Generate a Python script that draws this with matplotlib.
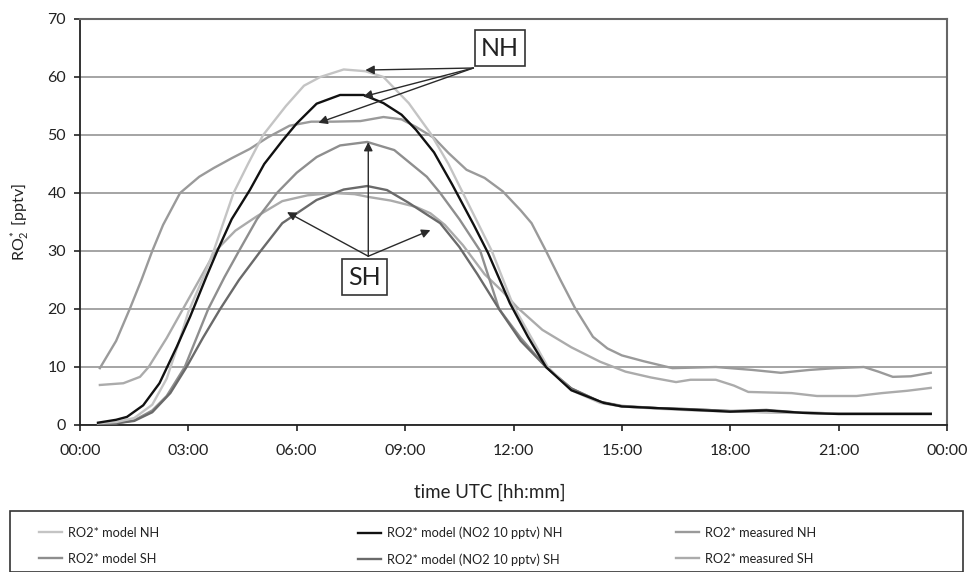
import matplotlib
matplotlib.use('Agg')
import matplotlib.pyplot as plt
from matplotlib.patches import Rectangle

plt.rcParams['font.family'] = ['Lato', 'DejaVu Sans']
plt.rcParams['mathtext.fontset'] = 'custom'
plt.rcParams['mathtext.rm'] = 'Lato'
plt.rcParams['mathtext.it'] = 'Lato:italic'

# ---- data (hours UTC, RO2* in pptv) ----
t_model_nh = [0.5, 1.0, 1.5, 2.0, 2.4, 2.75, 3.0, 3.45, 3.7, 4.25, 4.65, 5.07, 5.7, 6.2, 6.65,
              7.3, 7.9, 8.4, 9.1, 9.7, 10.2, 10.6, 11.0, 11.4, 12.0, 12.5, 12.95, 13.6, 14.4,
              15.0, 16.0, 17.0, 18.0, 19.0, 20.0, 21.0, 22.0, 23.55]
v_model_nh = [0.3, 0.5, 1.2, 3.5, 8.0, 14.5, 19.5, 26.0, 30.0, 40.0, 45.0, 50.0, 55.0, 58.5, 60.0,
              61.3, 61.0, 60.0, 55.5, 50.3, 45.0, 40.0, 35.0, 30.0, 20.5, 15.0, 10.0, 6.0, 3.8,
              3.2, 2.8, 2.5, 2.3, 2.2, 2.1, 2.0, 2.0, 2.0]

t_no2_nh = [0.5, 1.0, 1.3, 1.75, 2.2, 2.68, 3.05, 3.5, 3.8, 4.2, 4.7, 5.1, 5.6, 6.0, 6.55, 7.2,
            7.85, 8.4, 8.9, 9.3, 9.8, 10.3, 10.9, 11.3, 11.9, 12.4, 12.9, 13.6, 14.5, 15.0,
            16.0, 17.0, 18.0, 19.0, 20.0, 21.0, 22.0, 23.55]
v_no2_nh = [0.4, 0.9, 1.4, 3.4, 7.2, 13.5, 18.7, 25.6, 30.0, 35.5, 40.5, 45.0, 49.0, 52.0, 55.4,
            56.9, 56.9, 55.5, 53.5, 50.9, 47.0, 41.5, 34.5, 29.6, 21.0, 15.2, 10.0, 6.0, 3.8,
            3.2, 2.9, 2.6, 2.3, 2.5, 2.1, 1.9, 1.9, 1.9]

t_meas_nh = [0.55, 1.0, 1.39, 1.7, 2.0, 2.3, 2.77, 3.3, 3.7, 4.2, 4.7, 5.2, 5.8, 6.4, 7.0, 7.76,
             8.4, 8.9, 9.3, 9.8, 10.2, 10.7, 11.2, 11.7, 12.2, 12.5, 12.9, 13.3, 13.7, 14.2,
             14.6, 15.0, 15.6, 16.4, 17.0, 17.6, 18.6, 19.4, 20.2, 20.9, 21.7, 22.1, 22.5,
             23.0, 23.55]
v_meas_nh = [9.8, 14.5, 20.2, 25.0, 30.0, 34.5, 40.0, 42.8, 44.3, 46.0, 47.6, 49.6, 51.6, 52.3,
             52.3, 52.4, 53.1, 52.7, 51.4, 49.5, 46.9, 44.0, 42.6, 40.3, 37.0, 34.8, 30.0,
             25.0, 20.2, 15.2, 13.2, 12.0, 11.0, 9.8, 9.9, 10.0, 9.5, 9.0, 9.5, 9.8, 10.0,
             9.2, 8.3, 8.4, 9.0]

t_model_sh = [0.5, 1.0, 1.5, 2.0, 2.4, 2.9, 3.55, 4.0, 4.4, 4.9, 5.45, 6.0, 6.55, 7.2, 7.95,
              8.7, 9.6, 9.97, 10.5, 11.08, 11.6, 12.2, 12.9, 13.6, 14.4, 15.0, 16.0, 17.0,
              18.0, 19.0, 20.0, 21.0, 22.0, 23.55]
v_model_sh = [0.2, 0.3, 0.8, 2.5, 5.0, 10.0, 20.0, 25.5, 30.0, 35.5, 40.0, 43.5, 46.2, 48.2,
              48.8, 47.4, 42.8, 40.0, 35.5, 30.0, 20.0, 15.0, 10.0, 6.3, 4.0, 3.3, 2.9, 2.7,
              2.4, 2.2, 2.1, 2.0, 2.0, 2.0]

t_no2_sh = [0.5, 1.0, 1.5, 2.0, 2.5, 2.95, 3.4, 3.88, 4.4, 5.0, 5.6, 6.55, 7.3, 7.95, 8.5,
            9.1, 9.97, 10.5, 11.0, 11.6, 12.2, 12.9, 13.6, 14.4, 15.0, 16.0, 17.0, 18.0,
            19.0, 20.0, 21.0, 22.0, 23.55]
v_no2_sh = [0.2, 0.3, 0.7, 2.2, 5.5, 10.0, 15.0, 20.0, 25.0, 30.0, 34.8, 38.8, 40.6, 41.2,
            40.5, 38.3, 34.8, 30.7, 26.0, 20.0, 14.5, 10.0, 6.3, 4.0, 3.2, 2.9, 2.7, 2.4,
            2.6, 2.1, 2.0, 2.0, 2.0]

t_meas_sh = [0.55, 1.2, 1.66, 1.9, 2.4, 2.85, 3.3, 3.75, 4.3, 4.9, 5.6, 6.3, 7.0, 7.6, 8.0,
             8.6, 9.3, 9.7, 10.1, 10.6, 11.2, 11.7, 12.1, 12.8, 13.6, 14.4, 15.1, 15.8,
             16.5, 16.9, 17.6, 18.1, 18.5, 19.7, 20.4, 21.5, 22.2, 22.9, 23.55]
v_meas_sh = [6.9, 7.2, 8.3, 10.0, 15.0, 20.0, 25.0, 30.0, 33.5, 36.0, 38.6, 39.6, 40.0, 39.8,
             39.3, 38.7, 37.6, 36.5, 34.5, 31.0, 26.0, 23.0, 20.3, 16.4, 13.4, 10.9, 9.2,
             8.2, 7.4, 7.8, 7.8, 6.8, 5.7, 5.5, 5.0, 5.0, 5.5, 5.9, 6.4]

x_ticks = [0, 3, 6, 9, 12, 15, 18, 21, 24]
x_tick_labels = ['00:00', '03:00', '06:00', '09:00', '12:00', '15:00', '18:00', '21:00', '00:00']
y_ticks = [0, 10, 20, 30, 40, 50, 60, 70]

# annotation arrows (hours, pptv)
nh_box = (11.63, 65.0)
nh_origin = (10.89, 61.55)
nh_tips = [(7.9, 61.2), (7.84, 56.6), (6.6, 52.1)]
sh_box = (7.87, 25.5)
sh_origin = (7.98, 29.1)
sh_tips = [(7.98, 48.8), (5.73, 36.7), (9.7, 33.6)]

# ---- figure ----
fig = plt.figure(figsize=(9.73, 5.72), dpi=100)
ax = fig.add_axes([80 / 973, 1 - 425 / 572, 867 / 973, 406 / 572])

lw = 1.7
l_meas_nh, = ax.plot(t_meas_nh, v_meas_nh, color='#9a9a9a', lw=lw, zorder=3)
l_meas_sh, = ax.plot(t_meas_sh, v_meas_sh, color='#ababab', lw=lw, zorder=3)
l_model_sh, = ax.plot(t_model_sh, v_model_sh, color='#8e8e8e', lw=lw, zorder=3)
l_no2_sh, = ax.plot(t_no2_sh, v_no2_sh, color='#6a6a6a', lw=lw, zorder=3)
l_model_nh, = ax.plot(t_model_nh, v_model_nh, color='#c4c4c4', lw=lw, zorder=3)
l_no2_nh, = ax.plot(t_no2_nh, v_no2_nh, color='#111111', lw=lw, zorder=4)

ax.set_xlim(0, 24)
ax.set_ylim(0, 70)
ax.set_xticks(x_ticks)
ax.set_xticklabels(x_tick_labels)
ax.set_yticks(y_ticks)
ax.tick_params(axis='both', direction='out', length=4, width=1.2, colors='#222222', labelsize=11.5)
ax.tick_params(axis='x', pad=10)
ax.tick_params(axis='y', pad=6)

ax.grid(axis='y', color='#8c8c8c', lw=1.1, zorder=1)
ax.set_axisbelow(True)
for side in ['left', 'bottom']:
    ax.spines[side].set_color('#222222')
    ax.spines[side].set_linewidth(1.3)
for side in ['top', 'right']:
    ax.spines[side].set_color('#666666')
    ax.spines[side].set_linewidth(1.5)

ax.set_xlabel('time UTC [hh:mm]', fontsize=13.5, color='#222222')
ax.xaxis.set_label_coords(0.473, -0.145)
ax.set_ylabel('RO$_2^*$ [pptv]', fontsize=11.5, color='#222222')
ax.yaxis.set_label_coords(-0.055, 0.5)

arrow = dict(arrowstyle='-|>', color='#2a2a2a', lw=1.0, mutation_scale=13, shrinkA=0, shrinkB=0)
for tip in nh_tips:
    ax.annotate('', xy=tip, xytext=nh_origin, arrowprops=arrow, zorder=5)
for tip in sh_tips:
    ax.annotate('', xy=tip, xytext=sh_origin, arrowprops=arrow, zorder=5)

box = dict(boxstyle='square,pad=0.25', fc='white', ec='#333333', lw=1.2)
ax.text(*nh_box, 'NH', ha='center', va='center', fontsize=18, color='#222222', bbox=box, zorder=6)
ax.text(*sh_box, 'SH', ha='center', va='center', fontsize=18, color='#222222', bbox=box, zorder=6)

# ---- legend: frame plus three columns ----
fig.patches.append(Rectangle((10 / 973, 0.0), 953 / 973, 61 / 572, transform=fig.transFigure,
                             fill=False, ec='#333333', lw=1.2))
columns = [
    ([l_model_nh, l_model_sh], ['RO2* model NH', 'RO2* model SH'], 36),
    ([l_no2_nh, l_no2_sh], ['RO2* model (NO2 10 pptv) NH', 'RO2* model (NO2 10 pptv) SH'], 355),
    ([l_meas_nh, l_meas_sh], ['RO2* measured NH', 'RO2* measured SH'], 673),
]
for handles, labels, xpix in columns:
    leg = fig.legend(handles, labels, loc='upper left', bbox_to_anchor=(xpix / 973, 1 - 524 / 572),
                     frameon=False, fontsize=9.2, handlelength=1.8, handletextpad=0.5,
                     labelspacing=1.1, borderpad=0.2, borderaxespad=0)
    for txt in leg.get_texts():
        txt.set_color('#222222')

fig.savefig('out.png', dpi=100)
